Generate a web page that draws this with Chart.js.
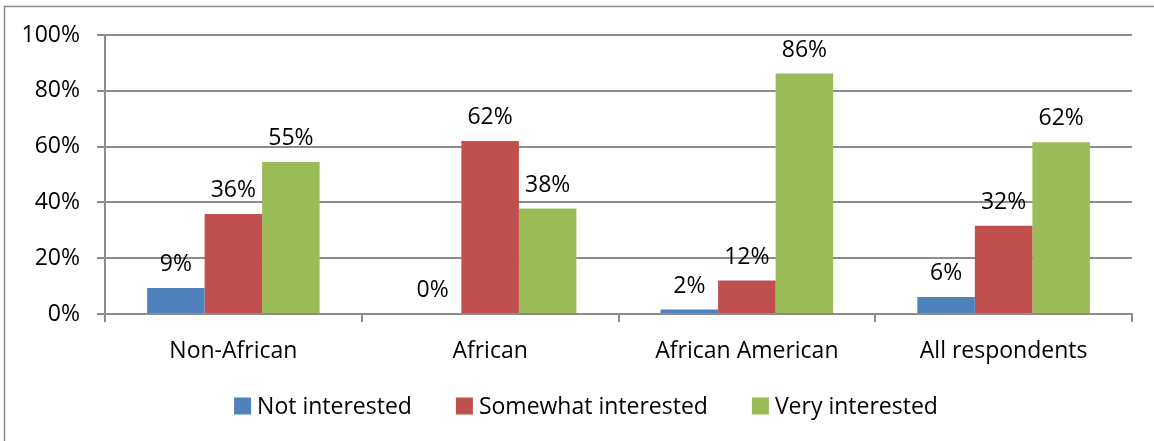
<!DOCTYPE html>
<html>
<head>
<meta charset="utf-8">
<script src="https://cdn.jsdelivr.net/npm/chart.js@4/dist/chart.umd.min.js"></script>
<style>
  html, body { margin: 0; padding: 0; background: #fff; }
  #wrap { width: 1154px; height: 441px; position: relative; }
</style>
</head>
<body>
<div id="wrap"><canvas id="myChart" width="1154" height="441"></canvas></div>
<script>
var categories = ["Non-African", "African", "African American", "All respondents"];
var notInterested = [9.3, 0, 1.6, 6.1];
var somewhatInterested = [35.8, 62.0, 12.0, 31.6];
var veryInterested = [54.5, 37.8, 86.2, 61.6];
var yTicks = [0, 20, 40, 60, 80, 100];

var gridColor = "#8c8c8c";
var font = "'Open Sans', sans-serif";
var fontSize = 23;

// value labels above each bar, like Excel's "outside end"
var valueLabels = {
    id: "valueLabels",
    afterDatasetsDraw: function(chart) {
        var c = chart.ctx;
        c.save();
        c.font = fontSize + "px " + font;
        c.fillStyle = "#000";
        c.textAlign = "center";
        c.textBaseline = "alphabetic";
        chart.data.datasets.forEach(function(ds, i) {
            chart.getDatasetMeta(i).data.forEach(function(bar, j) {
                c.fillText(Math.round(ds.data[j]) + "%", bar.x, bar.y - 17);
            });
        });
        c.restore();
    }
};

// legend drawn by hand so the spacing follows the Excel one
var excelLegend = {
    id: "excelLegend",
    afterDraw: function(chart) {
        var c = chart.ctx;
        var box = 17, gap = 6, space = 44, cy = 406, centre = 586;
        c.save();
        c.font = fontSize + "px " + font;
        c.textBaseline = "middle";
        c.textAlign = "left";
        var sets = chart.data.datasets;
        var widths = sets.map(function(ds) { return c.measureText(ds.label).width; });
        var total = 0;
        widths.forEach(function(w, i) { total += box + gap + w + (i > 0 ? space : 0); });
        var x = centre - total / 2;
        sets.forEach(function(ds, i) {
            c.fillStyle = ds.backgroundColor;
            c.fillRect(x, cy - box / 2, box, box);
            c.fillStyle = "#000";
            c.fillText(ds.label, x + box + gap, cy + 1);
            x += box + gap + widths[i] + space;
        });
        c.restore();
    }
};

// thin frame round the chart, cut off at right and bottom as in the picture
var frame = {
    id: "frame",
    beforeDraw: function(chart) {
        var c = chart.ctx;
        c.save();
        c.strokeStyle = "#8c8c8c";
        c.lineWidth = 1.5;
        c.strokeRect(4.5, 6.5, 1300, 600);
        c.restore();
    }
};

var ctx = document.getElementById("myChart");
var chart = new Chart(ctx, {
    type: "bar",
    data: {
        labels: categories,
        datasets: [
            { label: "Not interested", data: notInterested, backgroundColor: "#4F81BD" },
            { label: "Somewhat interested", data: somewhatInterested, backgroundColor: "#C0504D" },
            { label: "Very interested", data: veryInterested, backgroundColor: "#9BBB59" }
        ]
    },
    options: {
        responsive: false,
        animation: false,
        layout: { padding: { left: 0, right: 22, top: 35, bottom: 67 } },
        datasets: { bar: { categoryPercentage: 0.672, barPercentage: 1.0 } },
        plugins: {
            tooltip: { enabled: false },
            legend: { display: false }
        },
        scales: {
            x: {
                grid: { drawOnChartArea: false, drawTicks: true, tickLength: 8, color: gridColor, lineWidth: 2 },
                border: { color: gridColor, width: 2 },
                ticks: { color: "#000", padding: 16, font: { family: font, size: fontSize } },
                afterFit: function(scale) { scale.height = 60; }
            },
            y: {
                min: 0,
                max: 100,
                afterBuildTicks: function(scale) {
                    scale.ticks = yTicks.map(function(v) { return { value: v }; });
                },
                grid: { color: gridColor, lineWidth: 2, tickLength: 8 },
                border: { color: gridColor, width: 2 },
                ticks: {
                    color: "#000",
                    padding: 17,
                    font: { family: font, size: fontSize },
                    callback: function(v) { return v + "%"; }
                },
                afterFit: function(scale) { scale.width = 105; }
            }
        }
    },
    plugins: [valueLabels, excelLegend, frame]
});
</script>
</body>
</html>
